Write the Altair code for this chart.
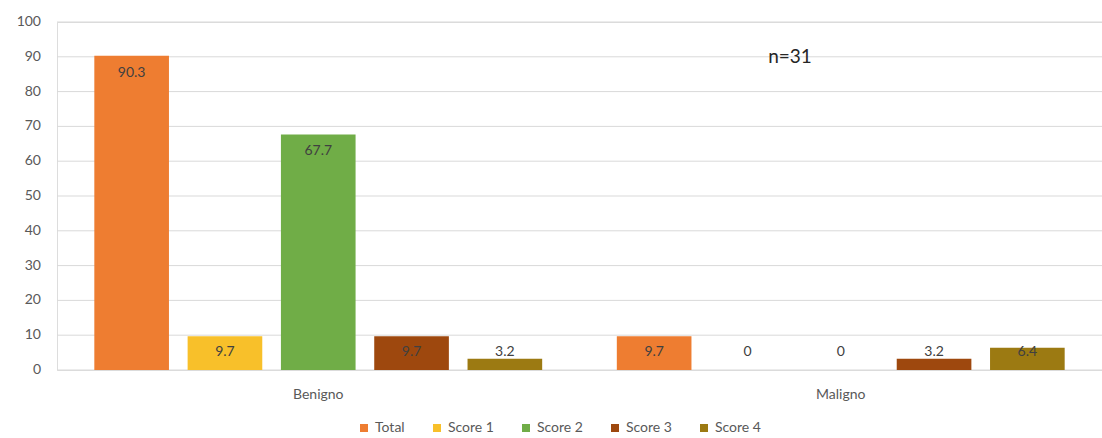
import altair as alt
import pandas as pd

categories = ["Benigno", "Maligno"]
series = ["Total", "Score 1", "Score 2", "Score 3", "Score 4"]
benigno = [90.3, 9.7, 67.7, 9.7, 3.2]
maligno = [9.7, 0, 0, 3.2, 6.4]
colors = ["#EE7D31", "#F8C02A", "#70AD47", "#9E480E", "#9C7A12"]
y_ticks = [0, 10, 20, 30, 40, 50, 60, 70, 80, 90, 100]
note = "n=31"

rows = []
for cat, vals in zip(categories, [benigno, maligno]):
    for s, v in zip(series, vals):
        rows.append({"cat": cat, "series": s, "value": v})
df = pd.DataFrame(rows)
ticks_df = pd.DataFrame({"tick": y_ticks})

FONT = "Lato"
W, H = 1045, 348

x_axis = alt.Axis(title=None, labelAngle=0, labelFontSize=14, labelColor="#595959",
                  labelFont=FONT, labelPadding=17, ticks=False, grid=False,
                  domain=False)
x_scale = alt.Scale(paddingInner=0, paddingOuter=0)
xo_scale = alt.Scale(paddingInner=0.2, paddingOuter=0.4)
y_scale = alt.Scale(domain=[0, 100], nice=False)

grid = alt.Chart(ticks_df).mark_rule(color="#D9D9D9", strokeWidth=1).encode(
    y=alt.Y("tick:Q", scale=y_scale, axis=None),
    x=alt.value(0),
    x2=alt.value(W),
)

tick_labels = alt.Chart(ticks_df).mark_text(
    align="right", baseline="middle", fontSize=14, font=FONT, color="#595959"
).encode(
    y=alt.Y("tick:Q", scale=y_scale, axis=None),
    x=alt.value(-16),
    text=alt.Text("tick:Q"),
)

bars = alt.Chart(df).mark_bar().encode(
    x=alt.X("cat:N", sort=categories, scale=x_scale, axis=x_axis),
    xOffset=alt.XOffset("series:N", sort=series, scale=xo_scale),
    y=alt.Y("value:Q", scale=y_scale, axis=None),
    color=alt.Color("series:N", sort=series,
                    scale=alt.Scale(domain=series, range=colors),
                    legend=alt.Legend(title=None, orient="none", direction="horizontal",
                                      legendX=300, legendY=399, symbolType="square",
                                      symbolSize=64, labelFontSize=14, labelColor="#595959",
                                      labelFont=FONT, labelOffset=4, columnPadding=25,
                                      symbolStrokeWidth=0)),
)

labels = alt.Chart(df).transform_calculate(
    labelpos="max(datum.value, 10)"
).mark_text(baseline="middle", dy=17, fontSize=14, font=FONT, color="#404040").encode(
    x=alt.X("cat:N", sort=categories, scale=x_scale, axis=x_axis),
    xOffset=alt.XOffset("series:N", sort=series, scale=xo_scale),
    y=alt.Y("labelpos:Q", scale=y_scale, axis=None),
    text=alt.Text("value:Q"),
)

ann = alt.Chart(pd.DataFrame({"t": [note]})).mark_text(
    fontSize=19, font=FONT, color="#262626", align="center", baseline="middle"
).encode(
    x=alt.value(733),
    y=alt.Y(datum=90, type="quantitative", scale=y_scale, axis=None),
    text="t:N",
)

chart = alt.layer(grid, bars, labels, tick_labels, ann).properties(
    width=W, height=H,
    autosize=alt.AutoSizeParams(type="none"),
    padding={"left": 57, "top": 22, "right": 0, "bottom": 68},
).configure_view(strokeWidth=0).configure(background="white")

chart.save("out.html", embed_options={"renderer": "svg", "actions": False})
